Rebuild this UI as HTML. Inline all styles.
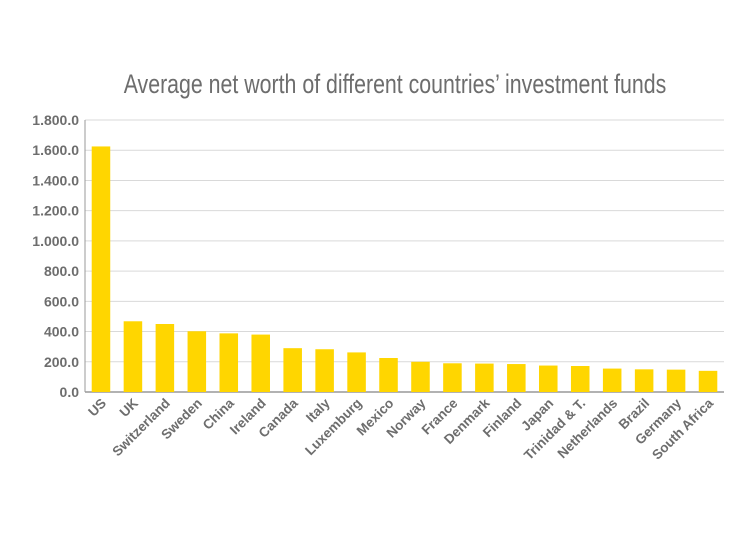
<!DOCTYPE html>
<html><head><meta charset="utf-8"><style>
html,body{margin:0;padding:0;background:#fff;}
svg{display:block;font-family:"Liberation Sans",sans-serif;}
</style></head><body>
<svg id="chart" width="750" height="537">
<text x="395" y="93" text-anchor="middle" font-size="27" fill="#6d6d6d" transform="translate(395,0) scale(0.79,1) translate(-395,0)">Average net worth of different countries’ investment funds</text>
<g id="grid"></g><g id="bars"></g><g id="xlabels"></g><g id="ylabels"></g>
</svg>
<script>
const categories=["US","UK","Switzerland","Sweden","China","Ireland","Canada","Italy","Luxemburg","Mexico","Norway","France","Denmark","Finland","Japan","Trinidad & T.","Netherlands","Brazil","Germany","South Africa"];
const values=[1625,468,450,402,388,380,290,283,262,225,200,190,188,185,175,172,155,150,148,140];
const yTicks=[0,200,400,600,800,1000,1200,1400,1600,1800];
const yTickLabels=["0.0","200.0","400.0","600.0","800.0","1.000.0","1.200.0","1.400.0","1.600.0","1.800.0"];
const NS="http://www.w3.org/2000/svg";
const plotLeft=85,plotRight=724,plotTop=120,plotBottom=392,yMax=1800;
const band=(plotRight-plotLeft)/categories.length;
function yScale(v){return plotBottom-(v/yMax)*(plotBottom-plotTop);}
function xScale(i){return plotLeft+band*(i+0.5);}
function mk(t,a,p){const e=document.createElementNS(NS,t);for(const k in a)e.setAttribute(k,a[k]);p.appendChild(e);return e;}
const g=document.getElementById('grid');
yTicks.forEach((t,i)=>{
 const l=mk('line',{x1:plotLeft,x2:plotRight,y1:yScale(t),y2:yScale(t),stroke:i==0?'#999':'#d9d9d9','stroke-width':i==0?1.5:1},g);
 
 
 const tx=mk('text',{x:plotLeft-6,y:yScale(t)+5,'text-anchor':'end','font-size':14,'font-weight':'bold',fill:'#6d6d6d'},document.getElementById('ylabels'));
 tx.textContent=yTickLabels[i];
 
 
});
const ax=mk('line',{x1:plotLeft,x2:plotLeft,y1:plotTop,y2:plotBottom,stroke:'#999','stroke-width':1},g);


const bw=band*0.58;
values.forEach((v,i)=>{
 const r=mk('rect',{x:xScale(i)-bw/2,y:yScale(v),width:bw,height:plotBottom-yScale(v),fill:'#ffd600'},document.getElementById('bars'));
 
 
 const lx=xScale(i)+6,ly=plotBottom+12;
 const t=mk('text',{x:lx,y:ly,'text-anchor':'end','font-size':13.5,'font-weight':'bold',fill:'#6d6d6d',transform:'rotate(-45 '+lx+' '+ly+')'},document.getElementById('xlabels'));
 t.textContent=categories[i];
 
 
});
</script>
</body></html>
